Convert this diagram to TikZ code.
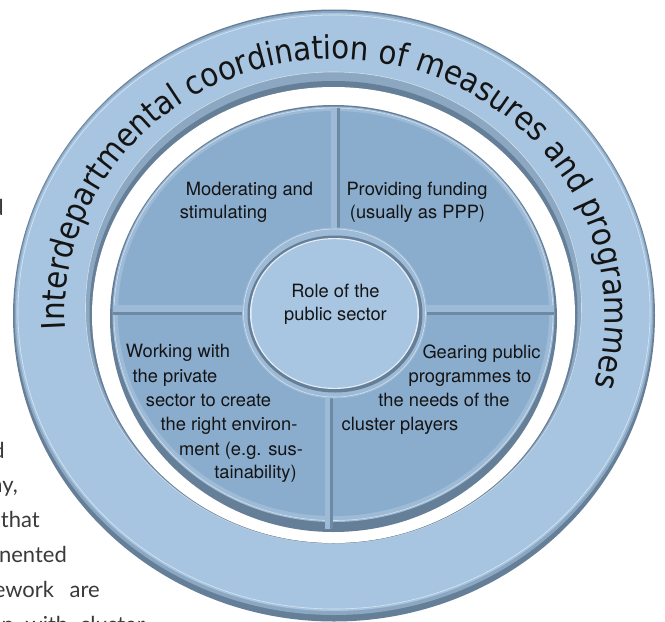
\documentclass[tikz,border=0pt]{standalone}
\usepackage{fontspec}
\setmainfont{TeX Gyre Heros}
\newfontfamily\ringfont{DejaVu Sans Condensed}
\newfontfamily\bodyfont{Lato}
\usetikzlibrary{decorations.text}
\definecolor{ringfill}{HTML}{A7C5E0}
\definecolor{ringdark}{HTML}{667F98}
\definecolor{ringmid}{HTML}{8CA7C1}
\definecolor{quadfill}{HTML}{8AACCD}
\definecolor{quadlight}{HTML}{9DBAD6}
\definecolor{quaddark}{HTML}{6E89A4}
\definecolor{centerfill}{HTML}{A8C6E2}
\definecolor{txt}{HTML}{141414}
\definecolor{bodytxt}{HTML}{3A3A3A}
\begin{document}
\begin{tikzpicture}[x=1pt,y=1pt,
  lbl/.style={anchor=base, inner sep=0pt, font=\fontsize{18.3pt}{20pt}\selectfont, text=txt},
  frag/.style={anchor=base east, inner sep=0pt, font=\bodyfont\fontsize{22pt}{24pt}\selectfont, text=bodytxt},
  hairline/.style={white, opacity=.55, line width=.6pt}]
\useasboundingbox (0,0) rectangle (665,-622);
\fill[white] (0,0) rectangle (665,-622);
% ---------------- outer ring
\fill[ringdark] (334,-315.5) ellipse [x radius=321pt, y radius=306pt];
\fill[ringmid]  (334,-313) ellipse [x radius=319.5pt, y radius=302pt];
\fill[ringfill] (334,-312) ellipse [x radius=318pt, y radius=299pt];
\draw[hairline] (334,-312) ellipse [x radius=316pt, y radius=297pt];
% inner edge of ring
\fill[ringmid]  (333.5,-307.75) ellipse [x radius=248pt, y radius=235.75pt];
\draw[hairline] (333.5,-307.75) ellipse [x radius=248pt, y radius=235.75pt];
\fill[ringdark] (333.5,-312.25) ellipse [x radius=244pt, y radius=231.25pt];
\fill[white]    (333.5,-315) ellipse [x radius=241.5pt, y radius=228pt];
% ring text
\path[decorate, decoration={text along path, text align={align=center},
  text={|\ringfont\fontsize{32.6pt}{33pt}\selectfont\color{txt}|Interdepartmental coordination of measures and programmes}}]
  (66.42,-340.65) arc [start angle=186, end angle=-19, x radius=270pt, y radius=255pt];
% ---------------- middle disk
\fill[ringdark]  (333.5,-318.5) ellipse [x radius=223.5pt, y radius=213.5pt];
\fill[quadlight] (333.5,-314.25) ellipse [x radius=221pt, y radius=207.75pt];
\draw[hairline] (333.5,-314.25) ellipse [x radius=219.5pt, y radius=206.25pt];
\fill[quadfill]  (333.5,-313.5) ellipse [x radius=215.5pt, y radius=202.5pt];
% dividers
\fill[quadlight] (113,-305) rectangle (255,-312);
\fill[quaddark]  (113,-312) rectangle (255,-315);
\fill[quadlight] (415,-305) rectangle (554,-312);
\fill[quaddark]  (415,-312) rectangle (554,-315);
\fill[quadlight] (331,-108) rectangle (337,-235);
\fill[quaddark]  (337,-108) rectangle (340,-235);
\fill[quadlight] (325,-390) rectangle (329.5,-529);
\fill[quaddark]  (329.5,-390) rectangle (333,-529);
% ---------------- centre circle
\fill[quadlight] (334.5,-313) ellipse [x radius=92.5pt, y radius=85.5pt];
\draw[hairline] (334.5,-313) ellipse [x radius=91pt, y radius=84pt];
\fill[ringdark]  (335,-314) ellipse [x radius=87.5pt, y radius=78.5pt];
\fill[white!70!centerfill] (334.5,-313.5) ellipse [x radius=84.5pt, y radius=75.5pt];
\fill[centerfill] (334.5,-313.5) ellipse [x radius=83pt, y radius=74.3pt];
% ---------------- labels
\node[lbl] (c1) at (335.5,-297) {Role of the};
\node[lbl] (c2) at (335.5,-320) {public sector};
\node[lbl] (a1) at (249.5,-195) {Moderating and};
\node[lbl] (a2) at (223.5,-218) {stimulating};
\node[lbl] (b1) at (417,-195) {Providing funding};
\node[lbl] (b2) at (417.5,-218) {(usually as PPP)};
\node[lbl] (d1) at (178,-357) {Working with};
\node[lbl] (d2) at (175,-382) {the private};
\node[lbl] (d3) at (208.5,-406) {sector to create};
\node[lbl] (d4) at (229,-430) {the right environ-};
\node[lbl] (d5) at (241,-455) {ment (e.g. sus-};
\node[lbl] (d6) at (255.5,-478) {tainability)};
\node[lbl] (e1) at (481.5,-358) {Gearing public};
\node[lbl] (e2) at (470,-382) {programmes to};
\node[lbl] (e3) at (444,-406) {the needs of the};
\node[lbl] (e4) at (400,-430) {cluster players};
% ---------------- fragments of surrounding page text
\node[frag] (f1) at (4,-215) {d};
\node[frag] (f2) at (5,-458) {d};
\node[frag] (f3) at (18,-492) {ay,};
\node[frag] (f4) at (40,-527) {that};
\node[frag] (f5) at (67,-562) {nented};
\node[frag] (f6) at (100,-597) {ework\hspace*{10pt} are};
\node[frag] (f7) at (145,-632) {n\hspace*{6pt} with\hspace*{6pt} cluster};
\end{tikzpicture}
\end{document}
